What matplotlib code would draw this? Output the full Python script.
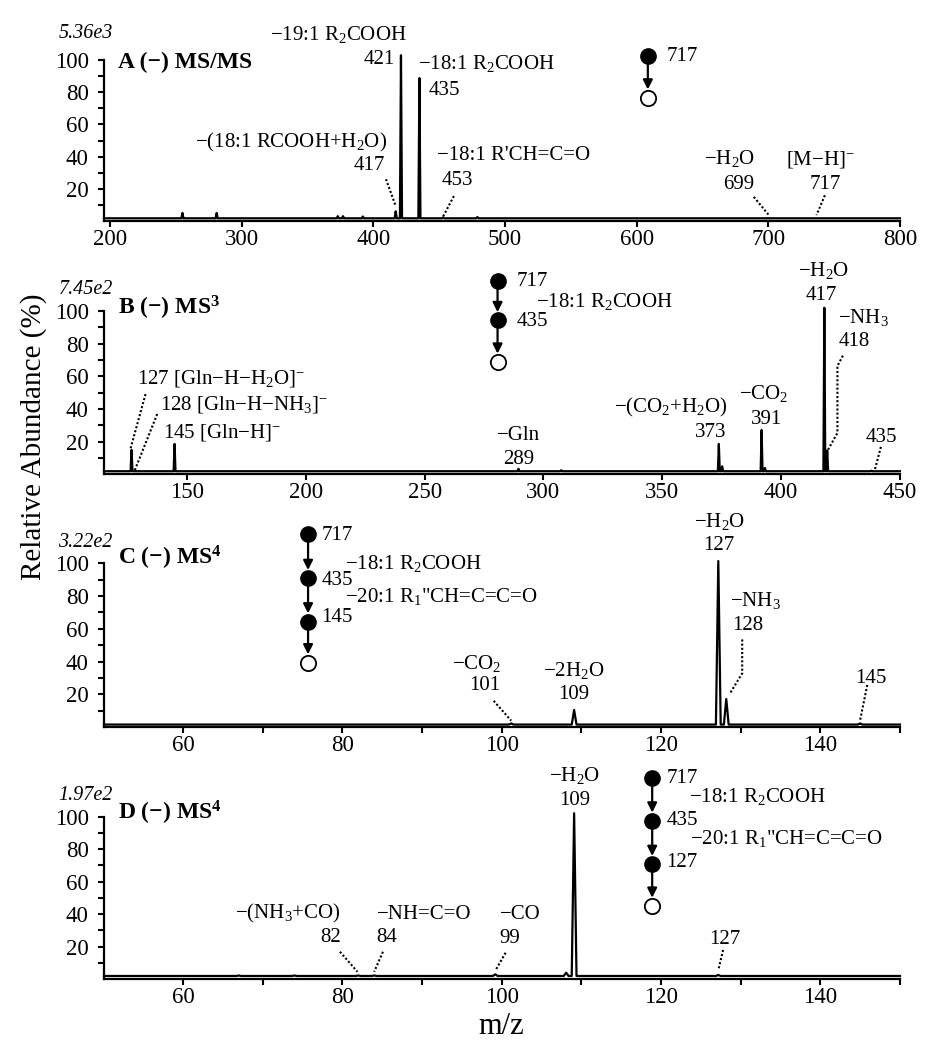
import numpy as np
import matplotlib
matplotlib.use("Agg")
import matplotlib.pyplot as plt
from matplotlib.transforms import offset_copy

plt.rcParams["font.family"] = ["Liberation Serif", "DejaVu Serif"]
plt.rcParams["mathtext.fontset"] = "custom"
plt.rcParams["mathtext.rm"] = "Liberation Serif"
plt.rcParams["mathtext.it"] = "Liberation Serif:italic"
plt.rcParams["mathtext.bf"] = "Liberation Serif:bold"

# -----------------------------
# Données (m/z, hauteur du pic en % sur l'axe)
# -----------------------------
mz_a = [255, 281, 373, 377, 392, 417, 421, 435, 453, 479]
ab_a = [5, 5, 3, 3, 2.8, 6, 103, 88.8, 2.3, 2.5]
scale_a = "5.36e3"

mz_b = [126.7, 144.8, 289.5, 307.5, 373.8, 375.2, 391.8, 393.2, 418.2, 419.4, 438]
ab_b = [15, 18.7, 3.5, 2.6, 18.7, 5, 27.2, 4, 102, 14.6, 2.3]
scale_b = "7.45e2"

mz_c = [101.2, 109.1, 127.2, 128.2, 145]
ab_c = [2.2, 10.4, 101.4, 17.1, 2.2]
scale_c = "3.22e2"

mz_d = [67, 74, 82, 84, 99.2, 108.1, 109.1, 127.2]
ab_d = [2.3, 2.3, 2.3, 2.3, 3, 4, 102.1, 2.6]
scale_d = "1.97e2"

titres = ["A (−) MS/MS", r"B (−) MS$\mathbf{^{3}}$", r"C (−) MS$\mathbf{^{4}}$", r"D (−) MS$\mathbf{^{4}}$"]

fig = plt.figure(figsize=(9.25, 10.5), dpi=100)

L, W = 0.1124, 0.8605
axA = fig.add_axes([L, 0.7895, W, 0.1533])
axB = fig.add_axes([L, 0.5481, W, 0.1557])
axC = fig.add_axes([L, 0.3076, W, 0.1559])
axD = fig.add_axes([L, 0.0674, W, 0.1548])

FS = 15


def txt(ax, x, y, s, ha="center", size=FS, **kw):
    # y = centre visuel du texte -> ligne de base un peu plus bas
    tr = offset_copy(ax.transData, fig=fig, y=-0.34 * size * 100 / 72, units="dots")
    ax.text(x, y, s, ha=ha, va="baseline", fontsize=size, transform=tr, clip_on=False, **kw)


def pointilles(ax, pts):
    xs, ys = zip(*pts)
    ax.plot(xs, ys, ls=(0, (1, 1)), lw=1.5, color="k", clip_on=False)


def spectre(ax, mz, ab, hw, base, xlim):
    xs, ys = [xlim[0]], [base]
    for m, h in sorted(zip(mz, ab)):
        xs += [m - hw, m, m + hw]
        ys += [base, h, base]
    xs.append(xlim[1])
    ys.append(base)
    ax.plot(xs, ys, color="k", lw=1.6, clip_on=False)


def arbre(ax, x, noeuds):
    for y0, y1 in zip(noeuds[:-1], noeuds[1:]):
        ax.annotate("", xy=(x, y1), xytext=(x, y0),
                    arrowprops=dict(arrowstyle="-|>", color="k", lw=1.6,
                                    shrinkA=5, shrinkB=6, mutation_scale=14),
                    annotation_clip=False)
    ax.plot([x] * (len(noeuds) - 1), noeuds[:-1], "o", ms=11, color="k", clip_on=False, zorder=5)
    ax.plot([x], noeuds[-1:], "o", ms=11, mfc="white", mec="k", mew=1.3, clip_on=False, zorder=5)


def axes_base(ax, xlim, major, minor, scale, y_scale, titre, x_titre, y_titre):
    ax.set_xlim(*xlim)
    ax.set_ylim(0, 100)
    ax.spines[["top", "right"]].set_visible(False)
    ax.spines[["left", "bottom"]].set_linewidth(1.6)
    ax.set_yticks([20, 40, 60, 80, 100])
    ax.set_yticks([10, 30, 50, 70, 90], minor=True)
    ax.set_xticks(major)
    ax.set_xticks(minor, minor=True)
    ax.tick_params(which="both", direction="out", length=4.5, width=1.5, labelsize=16.5)
    ax.tick_params(axis="x", pad=1)
    ax.tick_params(axis="y", pad=6.5)
    ax.text(0.011, y_scale, scale, ha="right", va="center", style="italic", fontsize=14.5,
            transform=ax.get_yaxis_transform())
    txt(ax, x_titre, y_titre, titre, ha="left", size=17, fontweight="bold")


# -----------------------------
# A  MS/MS
# -----------------------------
xl = (195.4, 800)
axes_base(axA, xl, np.arange(200, 801, 100), [], scale_a, 116.6, titres[0], 206, 99.8)
spectre(axA, mz_a, ab_a, 0.8, 1.7, xl)
txt(axA, 425.5, 117, r"−19:1 R$\mathregular{_2}$COOH", "right")
txt(axA, 416.4, 101.7, "421", "right")
txt(axA, 433.9, 98.6, r"−18:1 R$\mathregular{_2}$COOH", "left")
txt(axA, 442, 83, "435", "left")
txt(axA, 410.3, 50.2, r"−(18:1 RCOOH+H$\mathregular{_2}$O)", "right")
txt(axA, 408.8, 36, "417", "right")
txt(axA, 448, 42.5, "−18:1 R'CH=C=O", "left")
txt(axA, 452, 27, "453", "left")
txt(axA, 689.7, 39.7, r"−H$\mathregular{_2}$O", "right")
txt(axA, 689.7, 24, "699", "right")
txt(axA, 740, 39.7, r"[M−H]$\mathregular{^{−}}$", "center")
txt(axA, 743, 24, "717", "center")
pointilles(axA, [(409.6, 26), (417, 9.3)])
pointilles(axA, [(461.2, 15.5), (452.8, 2.5)])
pointilles(axA, [(689, 15), (700.4, 3.7)])
pointilles(axA, [(743, 16), (736.6, 3.7)])
arbre(axA, 608.5, [102.3, 76.5])
txt(axA, 623, 104, "717", "left")

# -----------------------------
# B  MS3
# -----------------------------
xl = (115.1, 450)
axes_base(axB, xl, np.arange(150, 451, 50), [], scale_b, 113.4, titres[1], 121, 102.7)
spectre(axB, mz_b, ab_b, 0.4, 2, xl)
txt(axB, 418, 125.6, r"−H$\mathregular{_2}$O")
txt(axB, 417, 110.9, "417")
txt(axB, 424, 97.2, r"−NH$\mathregular{_3}$", "left")
txt(axB, 424.3, 82.9, "418", "left")
txt(axB, 442, 24.2, "435")
txt(axB, 392.7, 50.7, r"−CO$\mathregular{_2}$")
txt(axB, 393.9, 35.5, "391")
txt(axB, 377.6, 42.1, r"−(CO$\mathregular{_2}$+H$\mathregular{_2}$O)", "right")
txt(axB, 377, 27.2, "373", "right")
txt(axB, 289.7, 25.6, "−Gln")
txt(axB, 289.7, 10.9, "289")
txt(axB, 128.8, 59.8, r"127 [Gln−H−H$\mathregular{_2}$O]$\mathregular{^{−}}$", "left")
txt(axB, 138.6, 43.8, r"128 [Gln−H−NH$\mathregular{_3}$]$\mathregular{^{−}}$", "left")
txt(axB, 139.8, 27.2, r"145 [Gln−H]$\mathregular{^{−}}$", "left")
pointilles(axB, [(426, 72.7), (423.7, 66.4), (423.7, 25.4), (419.7, 15)])
pointilles(axB, [(442, 16.9), (439.4, 2.7)])
pointilles(axB, [(132.6, 49.2), (126.3, 16)])
pointilles(axB, [(137.5, 37), (128.1, 2.7)])
arbre(axB, 280.7, [118.5, 94.2, 68.8])
txt(axB, 288.7, 119.6, "717", "left")
txt(axB, 288.7, 95.2, "435", "left")
txt(axB, 296.8, 107, r"−18:1 R$\mathregular{_2}$COOH", "left")

# -----------------------------
# C  MS4
# -----------------------------
xl = (50.08, 150)
axes_base(axC, xl, np.arange(60, 141, 20), np.arange(70, 151, 20), scale_c, 112.7, titres[2], 51.8, 103.9)
spectre(axC, mz_c, ab_c, 0.3, 1.5, xl)
txt(axC, 127.3, 126.5, r"−H$\mathregular{_2}$O")
txt(axC, 127.2, 112.3, "127")
txt(axC, 128.7, 78, r"−NH$\mathregular{_3}$", "left")
txt(axC, 128.9, 63.6, "128", "left")
txt(axC, 146.3, 31.1, "145")
txt(axC, 109, 35.8, r"−2H$\mathregular{_2}$O")
txt(axC, 109, 21.6, "109")
txt(axC, 100, 39.5, r"−CO$\mathregular{_2}$", "right")
txt(axC, 99.8, 26.7, "101", "right")
pointilles(axC, [(130.2, 53.5), (130.2, 32.8), (128.6, 20)])
pointilles(axC, [(145.9, 25.7), (145, 4.2)])
pointilles(axC, [(99, 16), (101.2, 3.9)])
arbre(axC, 75.7, [118.2, 90.8, 64.3, 39.3])
txt(axC, 77.4, 118.6, "717", "left")
txt(axC, 77.4, 91.1, "435", "left")
txt(axC, 77.4, 68.5, "145", "left")
txt(axC, 80.4, 100.9, r"−18:1 R$\mathregular{_2}$COOH", "left")
txt(axC, 80.4, 80.7, r'−20:1 R$\mathregular{_1}$"CH=C=C=O', "left")

# -----------------------------
# D  MS4
# -----------------------------
xl = (50.08, 150)
axes_base(axD, xl, np.arange(60, 141, 20), np.arange(70, 151, 20), scale_d, 113.3, titres[3], 51.8, 103.1)
spectre(axD, mz_d, ab_d, 0.3, 2, xl)
txt(axD, 109.2, 126.3, r"−H$\mathregular{_2}$O")
txt(axD, 109.2, 111.3, "109")
txt(axD, 102.3, 41.5, "−CO")
txt(axD, 101, 26.6, "99")
txt(axD, 128, 26.2, "127")
txt(axD, 79.8, 41.5, r"−(NH$\mathregular{_3}$+CO)", "right")
txt(axD, 79.8, 27.2, "82", "right")
txt(axD, 84.3, 41.5, "−NH=C=O", "left")
txt(axD, 84.3, 27.2, "84", "left")
pointilles(axD, [(100.5, 16.3), (99.2, 5.2)])
pointilles(axD, [(127.8, 18), (127.2, 5.6)])
pointilles(axD, [(79.7, 16.9), (81.9, 4.6)])
pointilles(axD, [(85.1, 16.9), (84, 4.6)])
arbre(axD, 118.9, [123.7, 97.4, 70.7, 45])
txt(axD, 120.7, 125.1, "717", "left")
txt(axD, 120.7, 99.1, "435", "left")
txt(axD, 120.7, 73.3, "127", "left")
txt(axD, 123.5, 113.3, r"−18:1 R$\mathregular{_2}$COOH", "left")
txt(axD, 123.7, 87.4, r'−20:1 R$\mathregular{_1}$"CH=C=C=O', "left")

fig.text(0.036, 0.584, "Relative Abundance (%)", rotation=90, ha="center", va="center", fontsize=21)
fig.text(0.542, 0.022, "m/z", ha="center", va="center", fontsize=22)

fig.savefig("out.png", dpi=100)
